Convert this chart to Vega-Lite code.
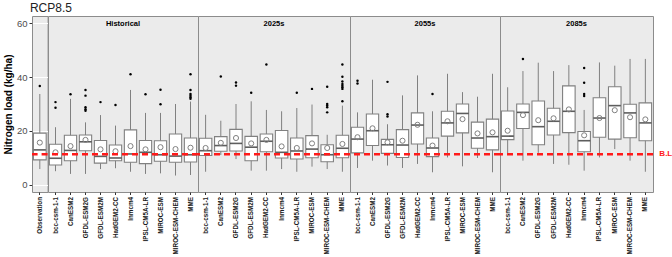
{
  "$schema": "https://vega.github.io/schema/vega-lite/v6.json",
  "title": {"text": "RCP8.5", "anchor": "start", "fontSize": 12, "fontWeight": "normal", "color": "#222222", "offset": 1, "dx": 27},
  "background": "white",
  "padding": {"left": 2, "top": 1, "right": 2, "bottom": 0},
  "bounds": "flush",
  "datasets": {
    "boxes": [
      {"period": "Observed", "model": "Observation", "lo": 5.9, "q1": 9.3, "med": 13.0, "q3": 19.2, "hi": 33.7, "mean": 15.7},
      {"period": "Historical", "model": "bcc-csm-1-1", "lo": 5.1, "q1": 7.4, "med": 9.9, "q3": 15.1, "hi": 21.4, "mean": 12.1},
      {"period": "Historical", "model": "CanESM2", "lo": 4.1, "q1": 9.0, "med": 12.8, "q3": 18.4, "hi": 31.9, "mean": 14.4},
      {"period": "Historical", "model": "GFDL-ESM2G", "lo": 4.1, "q1": 12.7, "med": 16.0, "q3": 18.5, "hi": 23.2, "mean": 16.7},
      {"period": "Historical", "model": "GFDL-ESM2M", "lo": 5.9, "q1": 8.1, "med": 10.6, "q3": 16.5, "hi": 25.9, "mean": 13.2},
      {"period": "Historical", "model": "HadGEM2-CC", "lo": 6.2, "q1": 9.0, "med": 10.0, "q3": 14.8, "hi": 22.0, "mean": 12.5},
      {"period": "Historical", "model": "Inmcm4", "lo": 4.9, "q1": 8.4, "med": 11.5, "q3": 20.4, "hi": 35.2, "mean": 14.4},
      {"period": "Historical", "model": "IPSL-CM5A-LR", "lo": 4.1, "q1": 7.9, "med": 12.1, "q3": 16.5, "hi": 26.7, "mean": 13.2},
      {"period": "Historical", "model": "MIROC-ESM", "lo": 4.3, "q1": 8.8, "med": 11.2, "q3": 16.4, "hi": 26.7, "mean": 14.0},
      {"period": "Historical", "model": "MIROC-ESM-CHEM", "lo": 3.5, "q1": 8.4, "med": 10.7, "q3": 18.9, "hi": 30.0, "mean": 13.3},
      {"period": "Historical", "model": "MME", "lo": 3.7, "q1": 8.5, "med": 11.2, "q3": 17.4, "hi": 30.9, "mean": 13.8},
      {"period": "2025s", "model": "bcc-csm-1-1", "lo": 4.9, "q1": 10.9, "med": 12.7, "q3": 17.3, "hi": 26.0, "mean": 13.7},
      {"period": "2025s", "model": "CanESM2", "lo": 11.1, "q1": 12.5, "med": 14.6, "q3": 17.9, "hi": 23.8, "mean": 15.6},
      {"period": "2025s", "model": "GFDL-ESM2G", "lo": 9.6, "q1": 12.6, "med": 15.4, "q3": 20.6, "hi": 30.0, "mean": 17.4},
      {"period": "2025s", "model": "GFDL-ESM2M", "lo": 5.3, "q1": 9.0, "med": 14.0, "q3": 18.0, "hi": 31.0, "mean": 15.4},
      {"period": "2025s", "model": "HadGEM2-CC", "lo": 5.3, "q1": 12.3, "med": 16.2, "q3": 18.9, "hi": 27.8, "mean": 16.7},
      {"period": "2025s", "model": "Inmcm4", "lo": 5.9, "q1": 10.0, "med": 12.1, "q3": 20.2, "hi": 27.3, "mean": 14.3},
      {"period": "2025s", "model": "IPSL-CM5A-LR", "lo": 4.9, "q1": 9.6, "med": 12.6, "q3": 17.4, "hi": 28.5, "mean": 13.7},
      {"period": "2025s", "model": "MIROC-ESM", "lo": 6.8, "q1": 10.1, "med": 13.3, "q3": 18.3, "hi": 29.8, "mean": 15.4},
      {"period": "2025s", "model": "MIROC-ESM-CHEM", "lo": 5.9, "q1": 8.6, "med": 11.2, "q3": 14.9, "hi": 18.6, "mean": 13.7},
      {"period": "2025s", "model": "MME", "lo": 4.9, "q1": 10.1, "med": 13.6, "q3": 18.4, "hi": 29.4, "mean": 15.2},
      {"period": "2055s", "model": "bcc-csm-1-1", "lo": 6.3, "q1": 11.9, "med": 17.0, "q3": 21.4, "hi": 26.9, "mean": 17.7},
      {"period": "2055s", "model": "CanESM2", "lo": 9.0, "q1": 14.6, "med": 20.1, "q3": 26.3, "hi": 39.0, "mean": 21.0},
      {"period": "2055s", "model": "GFDL-ESM2G", "lo": 7.2, "q1": 11.7, "med": 14.9, "q3": 16.9, "hi": 22.5, "mean": 15.8},
      {"period": "2055s", "model": "GFDL-ESM2M", "lo": 6.3, "q1": 10.2, "med": 14.8, "q3": 20.5, "hi": 33.2, "mean": 16.4},
      {"period": "2055s", "model": "HadGEM2-CC", "lo": 7.8, "q1": 15.2, "med": 22.2, "q3": 26.7, "hi": 40.6, "mean": 22.3},
      {"period": "2055s", "model": "Inmcm4", "lo": 4.7, "q1": 10.5, "med": 13.7, "q3": 17.4, "hi": 27.3, "mean": 14.6},
      {"period": "2055s", "model": "IPSL-CM5A-LR", "lo": 10.2, "q1": 18.1, "med": 23.0, "q3": 27.3, "hi": 41.2, "mean": 23.6},
      {"period": "2055s", "model": "MIROC-ESM", "lo": 6.9, "q1": 19.3, "med": 26.5, "q3": 30.0, "hi": 34.4, "mean": 24.4},
      {"period": "2055s", "model": "MIROC-ESM-CHEM", "lo": 10.0, "q1": 13.6, "med": 17.4, "q3": 23.3, "hi": 32.7, "mean": 19.1},
      {"period": "2055s", "model": "MME", "lo": 4.7, "q1": 13.0, "med": 17.9, "q3": 24.4, "hi": 41.2, "mean": 19.5},
      {"period": "2085s", "model": "bcc-csm-1-1", "lo": 11.2, "q1": 16.8, "med": 18.1, "q3": 27.4, "hi": 36.2, "mean": 20.1},
      {"period": "2085s", "model": "CanESM2", "lo": 9.0, "q1": 20.9, "med": 26.9, "q3": 30.0, "hi": 42.2, "mean": 25.9},
      {"period": "2085s", "model": "GFDL-ESM2G", "lo": 11.9, "q1": 14.9, "med": 21.6, "q3": 31.1, "hi": 45.3, "mean": 24.0},
      {"period": "2085s", "model": "GFDL-ESM2M", "lo": 7.8, "q1": 18.5, "med": 23.6, "q3": 28.4, "hi": 42.2, "mean": 24.7},
      {"period": "2085s", "model": "HadGEM2-CC", "lo": 7.5, "q1": 19.4, "med": 27.3, "q3": 36.7, "hi": 44.4, "mean": 28.0},
      {"period": "2085s", "model": "Inmcm4", "lo": 5.3, "q1": 12.3, "med": 16.4, "q3": 19.8, "hi": 27.8, "mean": 18.4},
      {"period": "2085s", "model": "IPSL-CM5A-LR", "lo": 10.2, "q1": 17.7, "med": 24.8, "q3": 32.3, "hi": 45.4, "mean": 24.8},
      {"period": "2085s", "model": "MIROC-ESM", "lo": 13.3, "q1": 17.0, "med": 29.4, "q3": 36.4, "hi": 44.2, "mean": 27.7},
      {"period": "2085s", "model": "MIROC-ESM-CHEM", "lo": 9.0, "q1": 17.5, "med": 26.7, "q3": 29.9, "hi": 46.7, "mean": 25.1},
      {"period": "2085s", "model": "MME", "lo": 4.9, "q1": 16.4, "med": 23.0, "q3": 30.4, "hi": 46.7, "mean": 24.3},
      {"period": "Observed", "model": "Observation", "out": 36.7},
      {"period": "Historical", "model": "bcc-csm-1-1", "out": 30.7},
      {"period": "Historical", "model": "bcc-csm-1-1", "out": 28.6},
      {"period": "Historical", "model": "CanESM2", "out": 33.6},
      {"period": "Historical", "model": "GFDL-ESM2G", "out": 35.2},
      {"period": "Historical", "model": "GFDL-ESM2G", "out": 33.1},
      {"period": "Historical", "model": "GFDL-ESM2G", "out": 28.8},
      {"period": "Historical", "model": "GFDL-ESM2G", "out": 28.1},
      {"period": "Historical", "model": "GFDL-ESM2G", "out": 27.5},
      {"period": "Historical", "model": "GFDL-ESM2M", "out": 30.7},
      {"period": "Historical", "model": "HadGEM2-CC", "out": 29.6},
      {"period": "Historical", "model": "Inmcm4", "out": 41.0},
      {"period": "Historical", "model": "IPSL-CM5A-LR", "out": 33.6},
      {"period": "Historical", "model": "MIROC-ESM", "out": 35.3},
      {"period": "Historical", "model": "MIROC-ESM", "out": 29.9},
      {"period": "Historical", "model": "MME", "out": 41.0},
      {"period": "Historical", "model": "MME", "out": 35.2},
      {"period": "Historical", "model": "MME", "out": 33.7},
      {"period": "Historical", "model": "MME", "out": 33.1},
      {"period": "Historical", "model": "MME", "out": 32.5},
      {"period": "Historical", "model": "MME", "out": 31.9},
      {"period": "2025s", "model": "CanESM2", "out": 40.2},
      {"period": "2025s", "model": "GFDL-ESM2G", "out": 38.0},
      {"period": "2025s", "model": "GFDL-ESM2G", "out": 36.8},
      {"period": "2025s", "model": "GFDL-ESM2M", "out": 34.2},
      {"period": "2025s", "model": "HadGEM2-CC", "out": 44.6},
      {"period": "2025s", "model": "IPSL-CM5A-LR", "out": 34.2},
      {"period": "2025s", "model": "MIROC-ESM", "out": 35.6},
      {"period": "2025s", "model": "MIROC-ESM-CHEM", "out": 36.4},
      {"period": "2025s", "model": "MIROC-ESM-CHEM", "out": 30.0},
      {"period": "2025s", "model": "MIROC-ESM-CHEM", "out": 29.4},
      {"period": "2025s", "model": "MIROC-ESM-CHEM", "out": 28.8},
      {"period": "2025s", "model": "MIROC-ESM-CHEM", "out": 26.9},
      {"period": "2025s", "model": "MME", "out": 44.6},
      {"period": "2025s", "model": "MME", "out": 40.1},
      {"period": "2025s", "model": "MME", "out": 38.3},
      {"period": "2025s", "model": "MME", "out": 37.4},
      {"period": "2025s", "model": "MME", "out": 36.8},
      {"period": "2025s", "model": "MME", "out": 36.2},
      {"period": "2025s", "model": "MME", "out": 35.6},
      {"period": "2025s", "model": "MME", "out": 31.0},
      {"period": "2055s", "model": "bcc-csm-1-1", "out": 38.6},
      {"period": "2055s", "model": "bcc-csm-1-1", "out": 37.6},
      {"period": "2055s", "model": "GFDL-ESM2G", "out": 38.2},
      {"period": "2055s", "model": "GFDL-ESM2G", "out": 26.2},
      {"period": "2055s", "model": "GFDL-ESM2G", "out": 25.4},
      {"period": "2055s", "model": "Inmcm4", "out": 33.7},
      {"period": "2085s", "model": "CanESM2", "out": 46.7},
      {"period": "2085s", "model": "Inmcm4", "out": 43.3},
      {"period": "2085s", "model": "Inmcm4", "out": 37.9},
      {"period": "2085s", "model": "Inmcm4", "out": 33.7},
      {"period": "2085s", "model": "Inmcm4", "out": 33.0}
    ]
  },
  "data": {"name": "boxes"},
  "spacing": 0,
  "resolve": {"scale": {"y": "shared"}},
  "hconcat": [
    {
      "width": {"step": 15.6},
      "height": 176,
      "transform": [{"filter": "datum.period == 'Observed'"}],
      "layer": [
        {"transform": [{"filter": "isValid(datum.lo)"}], "mark": {"type": "rule", "color": "#808080", "strokeWidth": 1},
         "encoding": {"x": {"field": "model", "type": "nominal", "sort": null, "scale": {"paddingInner": 0.18, "paddingOuter": 0.09}, "title": null},
          "y": {"field": "lo", "type": "quantitative", "title": "Nitrogen load (kg/ha)", "scale": {"domain": [-2.6, 62.6], "nice": false, "zero": false},
            "axis": {"values": [0, 10, 20, 30, 40, 50, 60], "labelExpr": "datum.value % 20 === 0 ? datum.label : ''",
              "gridWidth": {"condition": {"test": "datum.value % 20 === 0", "value": 1.1}, "value": 0.5},
              "tickOpacity": {"condition": {"test": "datum.value % 20 === 0", "value": 1}, "value": 0},
              "tickSize": 3, "tickColor": "#333333", "labelColor": "#4D4D4D", "labelFontSize": 9.5, "labelPadding": 2,
              "titleFontSize": 10, "titleFontWeight": "bold", "titleColor": "#000000", "titlePadding": 3}},
          "y2": {"field": "hi"}}},
        {"transform": [{"filter": "isValid(datum.lo)"}], "mark": {"type": "bar", "fill": "white", "stroke": "#808080", "strokeWidth": 1.1},
         "encoding": {"x": {"field": "model", "type": "nominal", "sort": null, "title": null}, "y": {"field": "q1", "type": "quantitative", "title": "Nitrogen load (kg/ha)"}, "y2": {"field": "q3"}}},
        {"transform": [{"filter": "isValid(datum.lo)"}], "mark": {"type": "tick", "color": "#1A1A1A", "thickness": 1.6, "size": 12},
         "encoding": {"x": {"field": "model", "type": "nominal", "sort": null, "title": null}, "y": {"field": "med", "type": "quantitative", "title": "Nitrogen load (kg/ha)"}}},
        {"transform": [{"filter": "isValid(datum.lo)"}], "mark": {"type": "point", "shape": "circle", "filled": false, "stroke": "#808080", "strokeWidth": 1, "size": 26, "opacity": 1},
         "encoding": {"x": {"field": "model", "type": "nominal", "sort": null, "title": null}, "y": {"field": "mean", "type": "quantitative", "title": "Nitrogen load (kg/ha)"}}},
        {"transform": [{"filter": "isValid(datum.out)"}], "mark": {"type": "point", "shape": "circle", "filled": true, "color": "#000000", "size": 6, "opacity": 1},
         "encoding": {"x": {"field": "model", "type": "nominal", "sort": null, "title": null}, "y": {"field": "out", "type": "quantitative", "title": "Nitrogen load (kg/ha)"}}},
        {"transform": [{"aggregate": [{"op": "count", "as": "n"}]}], "mark": {"type": "rule", "color": "#FF1A1A", "strokeWidth": 2.4, "strokeDash": [6, 4]},
         "encoding": {"y": {"datum": 11.4, "type": "quantitative"}}}
      ]
    },
    {
      "width": {"step": 15.0},
      "height": 176,
      "title": {"text": "Historical", "offset": -11, "fontSize": 7.5, "fontWeight": "bold", "color": "#000000", "anchor": "middle"},
      "transform": [{"filter": "datum.period == 'Historical'"}],
      "layer": [
        {"transform": [{"filter": "isValid(datum.lo)"}], "mark": {"type": "rule", "color": "#808080", "strokeWidth": 1},
         "encoding": {"x": {"field": "model", "type": "nominal", "sort": null, "scale": {"paddingInner": 0.18, "paddingOuter": 0.09}, "title": null},
          "y": {"field": "lo", "type": "quantitative", "axis": null}, "y2": {"field": "hi"}}},
        {"transform": [{"filter": "isValid(datum.lo)"}], "mark": {"type": "bar", "fill": "white", "stroke": "#808080", "strokeWidth": 1.1},
         "encoding": {"x": {"field": "model", "type": "nominal", "sort": null, "title": null}, "y": {"field": "q1", "type": "quantitative", "axis": null}, "y2": {"field": "q3"}}},
        {"transform": [{"filter": "isValid(datum.lo)"}], "mark": {"type": "tick", "color": "#1A1A1A", "thickness": 1.6, "size": 12},
         "encoding": {"x": {"field": "model", "type": "nominal", "sort": null, "title": null}, "y": {"field": "med", "type": "quantitative", "axis": null}}},
        {"transform": [{"filter": "isValid(datum.lo)"}], "mark": {"type": "point", "shape": "circle", "filled": false, "stroke": "#808080", "strokeWidth": 1, "size": 26, "opacity": 1},
         "encoding": {"x": {"field": "model", "type": "nominal", "sort": null, "title": null}, "y": {"field": "mean", "type": "quantitative", "axis": null}}},
        {"transform": [{"filter": "isValid(datum.out)"}], "mark": {"type": "point", "shape": "circle", "filled": true, "color": "#000000", "size": 6, "opacity": 1},
         "encoding": {"x": {"field": "model", "type": "nominal", "sort": null, "title": null}, "y": {"field": "out", "type": "quantitative", "axis": null}}},
        {"transform": [{"aggregate": [{"op": "count", "as": "n"}]}], "mark": {"type": "rule", "color": "#FF1A1A", "strokeWidth": 2.4, "strokeDash": [6, 4]},
         "encoding": {"y": {"datum": 11.4, "type": "quantitative", "axis": null}}}
      ]
    },
    {
      "width": {"step": 15.2},
      "height": 176,
      "title": {"text": "2025s", "offset": -11, "fontSize": 7.5, "fontWeight": "bold", "color": "#000000", "anchor": "middle"},
      "transform": [{"filter": "datum.period == '2025s'"}],
      "layer": [
        {"transform": [{"filter": "isValid(datum.lo)"}], "mark": {"type": "rule", "color": "#808080", "strokeWidth": 1},
         "encoding": {"x": {"field": "model", "type": "nominal", "sort": null, "scale": {"paddingInner": 0.18, "paddingOuter": 0.09}, "title": null},
          "y": {"field": "lo", "type": "quantitative", "axis": null}, "y2": {"field": "hi"}}},
        {"transform": [{"filter": "isValid(datum.lo)"}], "mark": {"type": "bar", "fill": "white", "stroke": "#808080", "strokeWidth": 1.1},
         "encoding": {"x": {"field": "model", "type": "nominal", "sort": null, "title": null}, "y": {"field": "q1", "type": "quantitative", "axis": null}, "y2": {"field": "q3"}}},
        {"transform": [{"filter": "isValid(datum.lo)"}], "mark": {"type": "tick", "color": "#1A1A1A", "thickness": 1.6, "size": 12},
         "encoding": {"x": {"field": "model", "type": "nominal", "sort": null, "title": null}, "y": {"field": "med", "type": "quantitative", "axis": null}}},
        {"transform": [{"filter": "isValid(datum.lo)"}], "mark": {"type": "point", "shape": "circle", "filled": false, "stroke": "#808080", "strokeWidth": 1, "size": 26, "opacity": 1},
         "encoding": {"x": {"field": "model", "type": "nominal", "sort": null, "title": null}, "y": {"field": "mean", "type": "quantitative", "axis": null}}},
        {"transform": [{"filter": "isValid(datum.out)"}], "mark": {"type": "point", "shape": "circle", "filled": true, "color": "#000000", "size": 6, "opacity": 1},
         "encoding": {"x": {"field": "model", "type": "nominal", "sort": null, "title": null}, "y": {"field": "out", "type": "quantitative", "axis": null}}},
        {"transform": [{"aggregate": [{"op": "count", "as": "n"}]}], "mark": {"type": "rule", "color": "#FF1A1A", "strokeWidth": 2.4, "strokeDash": [6, 4]},
         "encoding": {"y": {"datum": 11.4, "type": "quantitative", "axis": null}}}
      ]
    },
    {
      "width": {"step": 15.0},
      "height": 176,
      "title": {"text": "2055s", "offset": -11, "fontSize": 7.5, "fontWeight": "bold", "color": "#000000", "anchor": "middle"},
      "transform": [{"filter": "datum.period == '2055s'"}],
      "layer": [
        {"transform": [{"filter": "isValid(datum.lo)"}], "mark": {"type": "rule", "color": "#808080", "strokeWidth": 1},
         "encoding": {"x": {"field": "model", "type": "nominal", "sort": null, "scale": {"paddingInner": 0.18, "paddingOuter": 0.09}, "title": null},
          "y": {"field": "lo", "type": "quantitative", "axis": null}, "y2": {"field": "hi"}}},
        {"transform": [{"filter": "isValid(datum.lo)"}], "mark": {"type": "bar", "fill": "white", "stroke": "#808080", "strokeWidth": 1.1},
         "encoding": {"x": {"field": "model", "type": "nominal", "sort": null, "title": null}, "y": {"field": "q1", "type": "quantitative", "axis": null}, "y2": {"field": "q3"}}},
        {"transform": [{"filter": "isValid(datum.lo)"}], "mark": {"type": "tick", "color": "#1A1A1A", "thickness": 1.6, "size": 12},
         "encoding": {"x": {"field": "model", "type": "nominal", "sort": null, "title": null}, "y": {"field": "med", "type": "quantitative", "axis": null}}},
        {"transform": [{"filter": "isValid(datum.lo)"}], "mark": {"type": "point", "shape": "circle", "filled": false, "stroke": "#808080", "strokeWidth": 1, "size": 26, "opacity": 1},
         "encoding": {"x": {"field": "model", "type": "nominal", "sort": null, "title": null}, "y": {"field": "mean", "type": "quantitative", "axis": null}}},
        {"transform": [{"filter": "isValid(datum.out)"}], "mark": {"type": "point", "shape": "circle", "filled": true, "color": "#000000", "size": 6, "opacity": 1},
         "encoding": {"x": {"field": "model", "type": "nominal", "sort": null, "title": null}, "y": {"field": "out", "type": "quantitative", "axis": null}}},
        {"transform": [{"aggregate": [{"op": "count", "as": "n"}]}], "mark": {"type": "rule", "color": "#FF1A1A", "strokeWidth": 2.4, "strokeDash": [6, 4]},
         "encoding": {"y": {"datum": 11.4, "type": "quantitative", "axis": null}}}
      ]
    },
    {
      "width": {"step": 15.3},
      "height": 176,
      "title": {"text": "2085s", "offset": -11, "fontSize": 7.5, "fontWeight": "bold", "color": "#000000", "anchor": "middle"},
      "transform": [{"filter": "datum.period == '2085s'"}],
      "layer": [
        {"transform": [{"filter": "isValid(datum.lo)"}], "mark": {"type": "rule", "color": "#808080", "strokeWidth": 1},
         "encoding": {"x": {"field": "model", "type": "nominal", "sort": null, "scale": {"paddingInner": 0.18, "paddingOuter": 0.09}, "title": null},
          "y": {"field": "lo", "type": "quantitative", "axis": null}, "y2": {"field": "hi"}}},
        {"transform": [{"filter": "isValid(datum.lo)"}], "mark": {"type": "bar", "fill": "white", "stroke": "#808080", "strokeWidth": 1.1},
         "encoding": {"x": {"field": "model", "type": "nominal", "sort": null, "title": null}, "y": {"field": "q1", "type": "quantitative", "axis": null}, "y2": {"field": "q3"}}},
        {"transform": [{"filter": "isValid(datum.lo)"}], "mark": {"type": "tick", "color": "#1A1A1A", "thickness": 1.6, "size": 12},
         "encoding": {"x": {"field": "model", "type": "nominal", "sort": null, "title": null}, "y": {"field": "med", "type": "quantitative", "axis": null}}},
        {"transform": [{"filter": "isValid(datum.lo)"}], "mark": {"type": "point", "shape": "circle", "filled": false, "stroke": "#808080", "strokeWidth": 1, "size": 26, "opacity": 1},
         "encoding": {"x": {"field": "model", "type": "nominal", "sort": null, "title": null}, "y": {"field": "mean", "type": "quantitative", "axis": null}}},
        {"transform": [{"filter": "isValid(datum.out)"}], "mark": {"type": "point", "shape": "circle", "filled": true, "color": "#000000", "size": 6, "opacity": 1},
         "encoding": {"x": {"field": "model", "type": "nominal", "sort": null, "title": null}, "y": {"field": "out", "type": "quantitative", "axis": null}}},
        {"transform": [{"aggregate": [{"op": "count", "as": "n"}]}], "mark": {"type": "rule", "color": "#FF1A1A", "strokeWidth": 2.4, "strokeDash": [6, 4]},
         "encoding": {"y": {"datum": 11.4, "type": "quantitative", "axis": null}}},
        {"transform": [{"filter": "datum.model == 'MME' && isValid(datum.lo)"}],
         "mark": {"type": "text", "text": "B.L", "color": "#FF1A1A", "fontWeight": "bold", "fontSize": 8, "align": "left", "baseline": "middle", "dx": 14},
         "encoding": {"x": {"field": "model", "type": "nominal", "sort": null, "title": null}, "y": {"datum": 11.4, "type": "quantitative", "axis": null}}}
      ]
    }
  ],
  "config": {
    "font": "Liberation Sans",
    "view": {"fill": "#EBEBEB", "stroke": "#8C8C8C", "strokeWidth": 1},
    "concat": {"spacing": 0},
    "axis": {"gridColor": "#FFFFFF", "domain": false},
    "axisX": {
      "bandPosition": 0.5,
      "labelAngle": -90,
      "labelFontSize": 6.3,
      "labelFontWeight": "bold",
      "labelColor": "#1A1A1A",
      "labelPadding": 2,
      "tickSize": 2.5,
      "tickColor": "#333333",
      "gridWidth": 1
    }
  }
}
